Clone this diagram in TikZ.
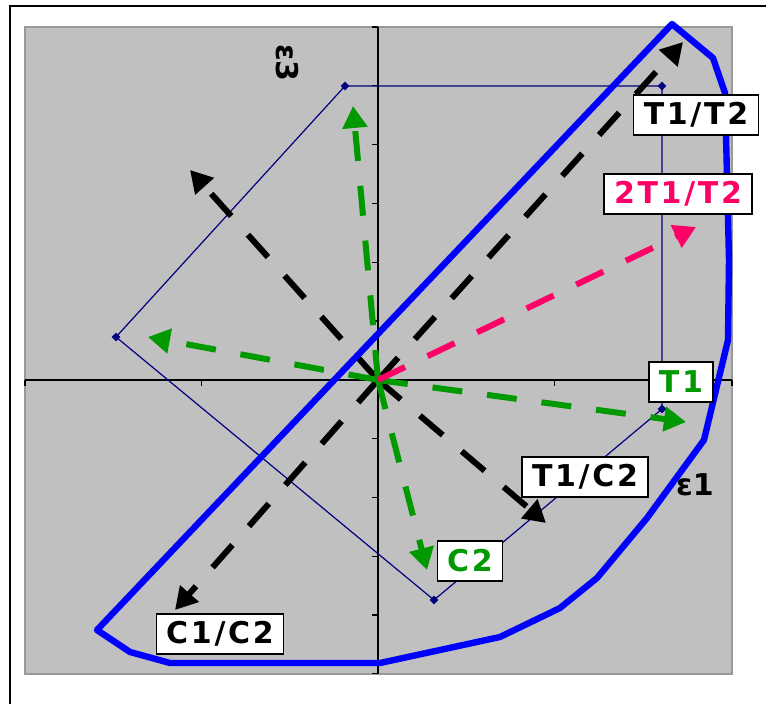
\documentclass[tikz,border=0pt]{standalone}
\usepackage{fontspec}
\setmainfont{DejaVu Sans}
\newfontfamily\lblfont{DejaVu Sans}[LetterSpace=9]
\usetikzlibrary{arrows.meta,shapes.geometric}
\definecolor{plotgray}{RGB}{192,192,192}
\definecolor{navy}{RGB}{0,0,128}
\definecolor{xlgreen}{RGB}{0,153,0}
\definecolor{xlpink}{RGB}{255,0,102}
\definecolor{xlblue}{RGB}{0,0,255}
\tikzset{
  vec/.style={line width=3pt, dash pattern=on 15pt off 12.5pt, -{Triangle[length=11pt,width=12pt]}},
  lbl/.style={draw=black, fill=white, line width=0.6pt, inner xsep=5pt, inner ysep=0pt, minimum height=20pt, font=\lblfont\bfseries\fontsize{15}{18}\selectfont},
  mk/.style={diamond, fill=navy, inner sep=0pt, minimum size=4.5pt},
  axlbl/.style={font=\bfseries\fontsize{15}{18}\selectfont}
}
\begin{document}
\begin{tikzpicture}[x=0.5pt,y=-0.5pt]
    \useasboundingbox (0,0) rectangle (766,704);
    \draw[line width=1pt] (10,704) -- (10,6) -- (766,6);
    \filldraw[fill=plotgray, draw=gray!80, line width=0.6pt] (25,27) rectangle (732,674);
    % axes
    \draw[line width=0.6pt] (25,380) -- (732,380);
    \draw[line width=0.6pt] (378,27) -- (378,674);
    \foreach \x in {25,201.75,378,554.25,732} \draw[line width=0.6pt] (\x,380) -- (\x,386);
    \foreach \k in {0,...,11} \draw[line width=0.6pt] (378,27+58.8*\k) -- (372,27+58.8*\k);
    % thin polygon
    \coordinate (O) at (378,380);
    \coordinate (Q1) at (345,86);
    \coordinate (Q2) at (662,86);
    \coordinate (Q3) at (662,409);
    \coordinate (Q4) at (434,600);
    \coordinate (Q5) at (116,337);
    \draw[navy, line width=0.6pt] (Q1) -- (Q2) -- (Q3) -- (Q4) -- (Q5) -- cycle;
    \foreach \q in {Q1,Q2,Q3,Q4,Q5} \node[mk] at (\q) {};
    % vectors
    \coordinate (aTT) at (683,42);
    \coordinate (aTC) at (546,523);
    \coordinate (aCC) at (175,610);
    \coordinate (aNW) at (190,170);
    \coordinate (aT) at (686,422);
    \coordinate (aC) at (427,570);
    \coordinate (aUp) at (353,106);
    \coordinate (aLeft) at (148,337);
    \coordinate (a2TT) at (696,227);
    \draw[vec] (O) -- (aTT);
    \draw[vec] (O) -- (aTC);
    \draw[vec] (O) -- (aCC);
    \draw[vec] (O) -- (aNW);
    \draw[vec, xlgreen] (O) -- (aT);
    \draw[vec, xlgreen] (O) -- (aC);
    \draw[vec, xlgreen] (O) -- (aUp);
    \draw[vec, xlgreen] (O) -- (aLeft);
    \draw[vec, xlpink] (O) -- (a2TT);
    % envelope
    \draw[xlblue, line width=3.2pt, line join=round] (672,24) -- (713,58) -- (725,93) -- (729,260) -- (728,340) -- (704,440) -- (647,518) -- (597,578) -- (560,608) -- (500,637) -- (380,663) -- (170,663) -- (130,652) -- (97,630) -- cycle;
    % labels
    \node[lbl] (lTT) at (696,115) {T1/T2};
    \node[lbl, text=xlpink] (l2TT) at (678,194) {2T1/T2};
    \node[lbl, text=xlgreen] (lT) at (681,382) {T1};
    \node[lbl] (lTC) at (585,477) {T1/C2};
    \node[lbl, text=xlgreen] (lC) at (470,561) {C2};
    \node[lbl] (lCC) at (220,634) {C1/C2};
    \node[axlbl, rotate=-90] (e3) at (287,63) {ε3};
    \node[axlbl] (e1) at (695,485) {ε1};
\end{tikzpicture}
\end{document}
